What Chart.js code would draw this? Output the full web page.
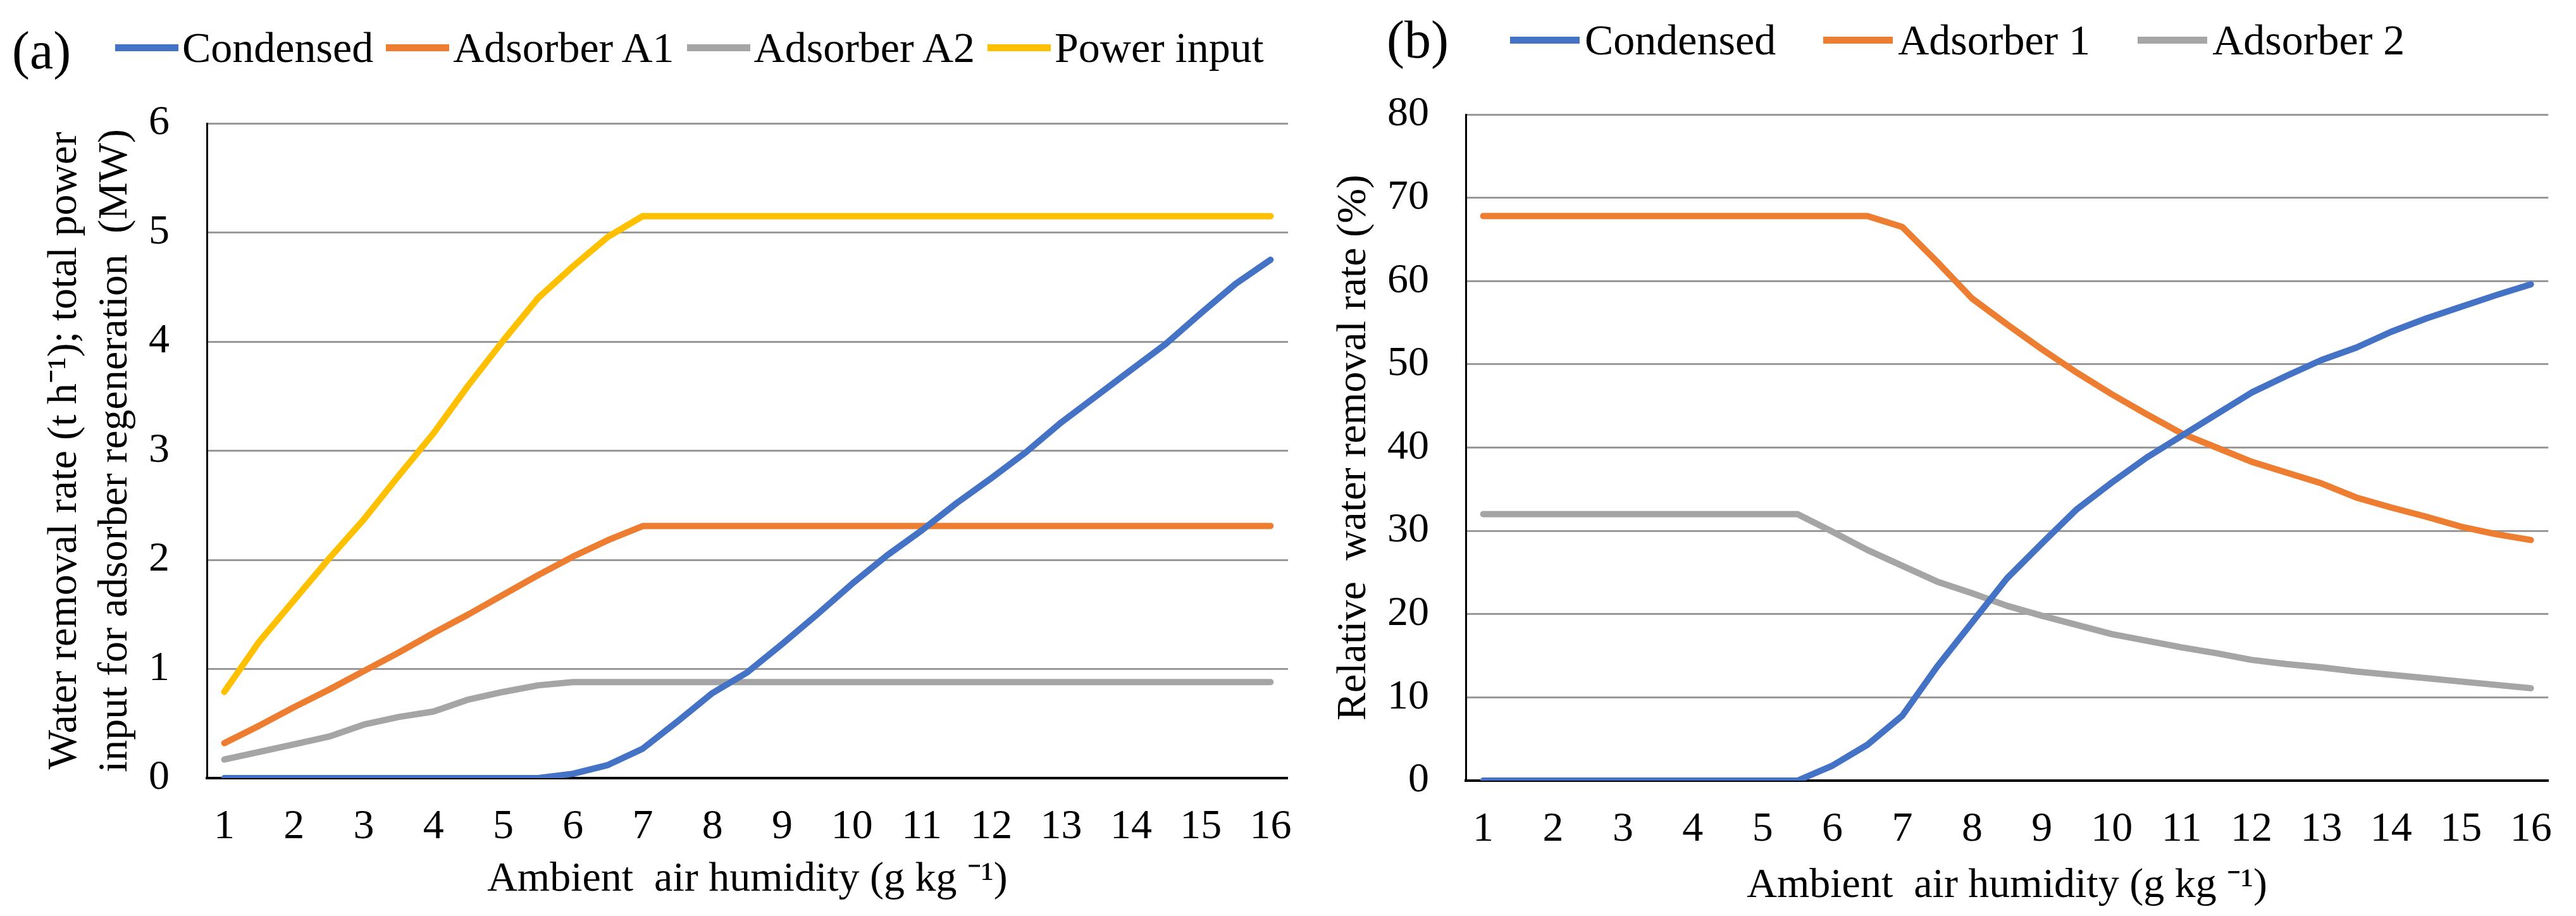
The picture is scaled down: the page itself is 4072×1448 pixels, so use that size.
<!DOCTYPE html>
<html>
<head>
<meta charset="utf-8">
<script src="https://cdn.jsdelivr.net/npm/chart.js@4.4.1/dist/chart.umd.min.js"></script>
<style>
  body { margin: 0; background: #fff; width: 4072px; height: 1448px; position: relative; overflow: hidden;
         font-family: 'Liberation Serif', 'Times New Roman', serif; color: #000; }
  canvas { position: absolute; top: 0; }
  #chartA { left: 0; }
  #chartB { left: 2080px; }
  .tag { position: absolute; font-size: 84px; line-height: 1; transform: translateY(-50%); }
  .legend { position: absolute; display: flex; align-items: center; font-size: 68px; line-height: 1;
            white-space: nowrap; transform: translateY(-50%); }
  .legend .sw { display: inline-block; height: 11px; }
</style>
</head>
<body>
<div class="tag" style="left:19px; top:80px;">(a)</div>
<div class="legend" id="legendA" style="left:182px; top:75px;"></div>
<canvas id="chartA" width="2080" height="1448"></canvas>

<div class="tag" style="left:2192px; top:63px;">(b)</div>
<div class="legend" id="legendB" style="left:2387px; top:63px;"></div>
<canvas id="chartB" width="1992" height="1448"></canvas>

<script>
// ambient air humidity, g/kg (half steps)
const humidity = [1, 1.5, 2, 2.5, 3, 3.5, 4, 4.5, 5, 5.5, 6, 6.5, 7, 7.5, 8, 8.5,
  9, 9.5, 10, 10.5, 11, 11.5, 12, 12.5, 13, 13.5, 14, 14.5, 15, 15.5, 16];

// (a) water removal rate (t/h) and power input (MW)
const condensedA = [0, 0, 0, 0, 0, 0, 0, 0, 0, 0, 0.04, 0.12, 0.27, 0.52, 0.78, 0.97,
  1.23, 1.5, 1.78, 2.04, 2.27, 2.52, 2.75, 2.99, 3.26, 3.5, 3.74, 3.98, 4.26, 4.53, 4.75];
const adsorberA1 = [0.32, 0.48, 0.65, 0.81, 0.98, 1.15, 1.33, 1.5, 1.68, 1.86, 2.03, 2.18, 2.31, 2.31, 2.31, 2.31,
  2.31, 2.31, 2.31, 2.31, 2.31, 2.31, 2.31, 2.31, 2.31, 2.31, 2.31, 2.31, 2.31, 2.31, 2.31];
const adsorberA2 = [0.17, 0.24, 0.31, 0.38, 0.49, 0.56, 0.61, 0.72, 0.79, 0.85, 0.88, 0.88, 0.88, 0.88, 0.88, 0.88,
  0.88, 0.88, 0.88, 0.88, 0.88, 0.88, 0.88, 0.88, 0.88, 0.88, 0.88, 0.88, 0.88, 0.88, 0.88];
const powerInput = [0.79, 1.25, 1.63, 2.01, 2.37, 2.77, 3.16, 3.6, 4.01, 4.4, 4.69, 4.96, 5.15, 5.15, 5.15, 5.15,
  5.15, 5.15, 5.15, 5.15, 5.15, 5.15, 5.15, 5.15, 5.15, 5.15, 5.15, 5.15, 5.15, 5.15, 5.15];

// (b) relative water removal rate (%)
const condensedB = [0, 0, 0, 0, 0, 0, 0, 0, 0, 0, 1.8, 4.3, 7.8, 13.7, 19.0, 24.3,
  28.5, 32.6, 35.8, 38.8, 41.4, 44.0, 46.6, 48.6, 50.5, 52.0, 53.9, 55.5, 56.9, 58.3, 59.6];
const adsorber1 = [67.8, 67.8, 67.8, 67.8, 67.8, 67.8, 67.8, 67.8, 67.8, 67.8, 67.8, 67.8, 66.5, 62.3, 57.9, 54.8,
  51.8, 49.0, 46.4, 44.0, 41.7, 40.0, 38.3, 37.0, 35.7, 34.0, 32.8, 31.7, 30.5, 29.6, 28.9];
const adsorber2 = [32.0, 32.0, 32.0, 32.0, 32.0, 32.0, 32.0, 32.0, 32.0, 32.0, 29.9, 27.7, 25.8, 23.9, 22.5, 21.0,
  19.8, 18.7, 17.6, 16.8, 16.0, 15.3, 14.5, 14.0, 13.6, 13.1, 12.7, 12.3, 11.9, 11.5, 11.1];

const blue = '#4472C4', orange = '#ED7D31', gray = '#A5A5A5', yellow = '#FFC000';

Chart.defaults.font.family = "'Liberation Serif', 'Times New Roman', serif";
Chart.defaults.font.size = 66;
Chart.defaults.color = '#000';

function line(label, data, color) {
  return {
    label: label, data: data, borderColor: color, backgroundColor: color,
    borderWidth: 10, pointRadius: 0, tension: 0, fill: false,
    borderCapStyle: 'round', borderJoinStyle: 'round'
  };
}

function makeChart(id, datasets, s) {
  return new Chart(document.getElementById(id), {
    type: 'line',
    data: { labels: humidity, datasets: datasets },
    options: {
      responsive: false,
      animation: false,
      devicePixelRatio: 1,
      layout: { padding: { top: s.top, right: s.right, left: 0, bottom: 0 } },
      plugins: { legend: { display: false }, tooltip: { enabled: false } },
      scales: {
        x: {
          type: 'category',
          offset: true,
          grid: { display: false, drawTicks: false },
          border: { display: true, color: '#000', width: 4 },
          ticks: {
            autoSkip: false, maxRotation: 0, padding: 38,
            callback: function (v) {
              const h = this.getLabelForValue(v);
              return Number.isInteger(h) ? String(h) : '';
            }
          },
          title: {
            display: true, text: 'Ambient  air humidity (g kg \u207B\u00B9)',
            font: { size: 66, lineHeight: 1.2 }, padding: { top: 0, bottom: s.xTitlePad }
          },
          afterFit: function (scale) { scale.height = s.xHeight; }
        },
        y: {
          min: 0, max: s.yMax,
          grid: { color: '#999999', lineWidth: 3, drawTicks: false },
          border: { display: true, color: '#000', width: 3 },
          ticks: { stepSize: s.yStep, padding: s.yTickPad },
          title: {
            display: true, text: s.yTitle,
            font: { size: 66, lineHeight: 1.21 }, padding: { top: s.yTitlePad, bottom: 0 }
          },
          afterFit: function (scale) { scale.width = s.yWidth; }
        }
      }
    }
  });
}

function makeLegend(id, datasets, swatch, gap, space) {
  const box = document.getElementById(id);
  datasets.forEach(function (d, i) {
    const sw = document.createElement('span');
    sw.className = 'sw';
    sw.style.width = swatch + 'px';
    sw.style.background = d.borderColor;
    sw.style.marginRight = gap + 'px';
    const tx = document.createElement('span');
    tx.textContent = d.label;
    if (i < datasets.length - 1) tx.style.marginRight = space + 'px';
    box.appendChild(sw);
    box.appendChild(tx);
  });
}

const setsA = [
  line('Condensed', condensedA, blue),
  line('Adsorber A1', adsorberA1, orange),
  line('Adsorber A2', adsorberA2, gray),
  line('Power input', powerInput, yellow)
];
const setsB = [
  line('Condensed', condensedB, blue),
  line('Adsorber 1', adsorber1, orange),
  line('Adsorber 2', adsorber2, gray)
];

makeChart('chartA', setsA, {
  top: 195, right: 38, xHeight: 218, yWidth: 327, yMax: 6, yStep: 1,
  yTickPad: 59, yTitlePad: 63, xTitlePad: 18,
  yTitle: ['Water removal rate (t h\u207B\u00B9); total power', 'input for adsorber regeneration  (MW)']
});
makeChart('chartB', setsB, {
  top: 181, right: 23, xHeight: 214, yWidth: 237, yMax: 80, yStep: 10,
  yTickPad: 58, yTitlePad: 21, xTitlePad: 8,
  yTitle: 'Relative  water removal rate (%)'
});

makeLegend('legendA', setsA, 100, 6, 20);
makeLegend('legendB', setsB, 110, 8, 75);
</script>
</body>
</html>
